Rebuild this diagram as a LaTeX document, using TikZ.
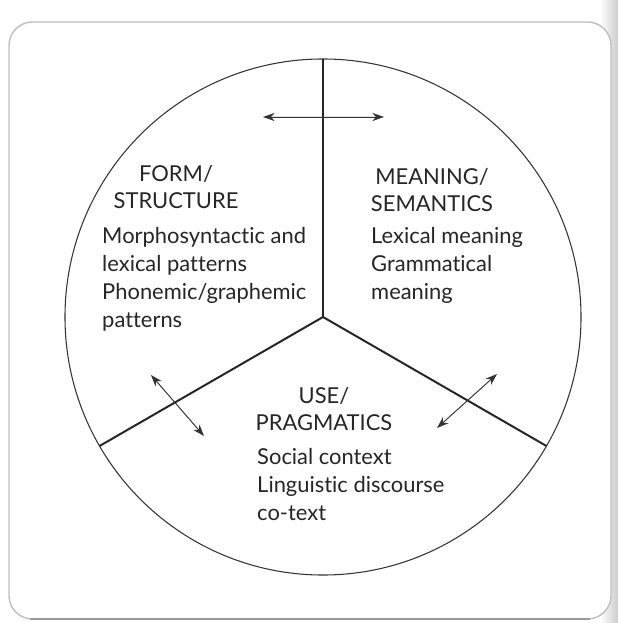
\documentclass[tikz,border=0pt]{standalone}
\usepackage{fontspec}
\setmainfont{Lato}[Ligatures=NoCommon]
\usetikzlibrary{arrows.meta}
\begin{document}
\begin{tikzpicture}
[x=0.03cm, y=-0.03cm,
 rim/.style={draw=black!80, line width=0.9pt},
 spoke/.style={draw=black!85, line width=1.7pt},
 link/.style={{Stealth[length=10pt,width=7pt]}-{Stealth[length=10pt,width=7pt]}, line width=0.8pt, draw=black!80, fill=black!80},
 heading/.style={align=center, anchor=base, inner sep=0pt, text=black!85, font=\fontsize{18.7}{23}\selectfont},
 body/.style={align=left, anchor=base west, inner sep=0pt, text=black!85, font=\fontsize{18.7}{23.8}\selectfont}]
\useasboundingbox[fill=white] (0,0) rectangle (618,623);
\shade[left color=white, right color=black!20] (600,0) rectangle (618,623);
\draw[rounded corners=20pt, draw=black!25, line width=1.2pt, fill=white] (9,22) rectangle (611,619);
\draw[black!40, line width=1.4pt] (30,619) -- (590,619);
% circle and spokes
\coordinate (c) at (323,317);
\node (wheel) [rim, circle, minimum size=15.48cm, inner sep=0pt, outer sep=0pt] at (c) {};
\draw[spoke] (c) -- (wheel.90);
\draw[spoke] (c) -- (wheel.210);
\draw[spoke] (c) -- (wheel.330);
% double arrows
\coordinate (top1) at (263,117);
\coordinate (top2) at (384,117);
\coordinate (left1) at (151,375);
\coordinate (left2) at (204,436);
\coordinate (right1) at (497,374);
\coordinate (right2) at (437,428);
\draw[link] (top1) -- (top2);
\draw[link] (left1) -- (left2);
\draw[link] (right1) -- (right2);
% texts (anchored on the last line)
\node (formhead) [heading] at (176,208) {FORM/\\STRUCTURE};
\node (formbody) [body] at (102,327) {Morphosyntactic and\\lexical patterns\\Phonemic/graphemic\\patterns};
\node (meaninghead) [heading] at (432,211) {MEANING/\\SEMANTICS};
\node (meaningbody) [body] at (371,299) {Lexical meaning\\Grammatical\\meaning};
\node (usehead) [heading] at (324,430) {USE/\\PRAGMATICS};
\node (usebody) [body] at (257,520) {Social context\\Linguistic discourse\\co-text};
\end{tikzpicture}
\end{document}
